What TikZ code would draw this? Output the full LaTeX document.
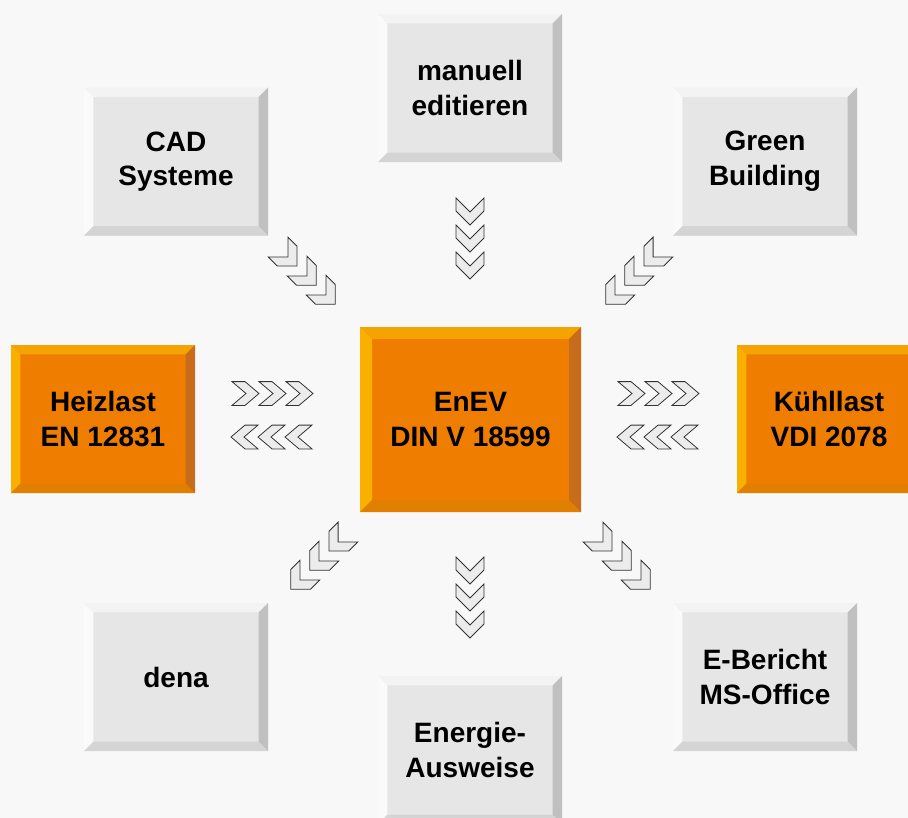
\documentclass[tikz,border=0pt]{standalone}
\usepackage{fontspec}
\setmainfont{Liberation Sans}
\usetikzlibrary{positioning}
\definecolor{bg}{RGB}{248,248,248}
\definecolor{gface}{RGB}{230,230,230}
\definecolor{gtop}{RGB}{243,243,243}
\definecolor{gleft}{RGB}{250,250,250}
\definecolor{gright}{RGB}{192,192,192}
\definecolor{gbottom}{RGB}{212,212,212}
\definecolor{oface}{RGB}{239,125,0}
\definecolor{otop}{RGB}{245,163,0}
\definecolor{oleft}{RGB}{250,176,0}
\definecolor{oright}{RGB}{199,108,26}
\definecolor{obottom}{RGB}{224,127,0}
\definecolor{chevfill}{RGB}{236,236,236}
\tikzset{
bevel/.style n args={5}{path picture={
  \coordinate (bnw) at (path picture bounding box.north west);
  \coordinate (bne) at (path picture bounding box.north east);
  \coordinate (bsw) at (path picture bounding box.south west);
  \coordinate (bse) at (path picture bounding box.south east);
  \fill[#2] (bnw) -- (bne) -- ([xshift=-#1,yshift=-#1]bne) -- ([xshift=#1,yshift=-#1]bnw) -- cycle;
  \fill[#3] (bnw) -- (bsw) -- ([xshift=#1,yshift=#1]bsw) -- ([xshift=#1,yshift=-#1]bnw) -- cycle;
  \fill[#4] (bne) -- (bse) -- ([xshift=-#1,yshift=#1]bse) -- ([xshift=-#1,yshift=-#1]bne) -- cycle;
  \fill[#5] (bsw) -- (bse) -- ([xshift=-#1,yshift=#1]bse) -- ([xshift=#1,yshift=#1]bsw) -- cycle;
}},
box/.style={rectangle,inner sep=0pt,minimum width=138pt,minimum height=111pt,
  align=center,font=\bfseries\fontsize{21}{26}\selectfont},
graybox/.style={box,fill=gface,bevel={7pt}{gtop}{gleft}{gright}{gbottom}},
orangebox/.style={box,fill=oface,bevel={7pt}{otop}{oleft}{oright}{obottom}},
bigbox/.style={orangebox,minimum width=165.75pt,minimum height=138.75pt,
  bevel={9pt}{otop}{oleft}{oright}{obottom}},
chev/.style={fill=chevfill,draw=black!80,line width=0.6pt,line join=miter},
pics/chevrons/.style={code={
  \foreach \k in {1,...,#1}
    \filldraw[chev] ({27*(\k-1)},14) -- ++(13,0) -- ++(14,-14) -- ++(-14,-14)
      -- ++(-13,0) -- ++(14,14) -- cycle;
}},
}
\begin{document}
\begin{tikzpicture}[x=0.75pt,y=-0.75pt]
\useasboundingbox (0,0) rectangle (908,818);
\clip (0,0) rectangle (908,818);
\fill[bg] (0,0) rectangle (908,818);
% outer ring
\node[graybox] (man) at (470,88) {manuell\\editieren};
\node[graybox] (cad) at (176,161.5) {CAD\\Systeme};
\node[graybox] (green) at (765,161.5) {Green\\Building};
\node[orangebox] (heiz) at (103,419) {Heizlast\\EN 12831};
\node[bigbox] (enev) at (470.5,419.5) {EnEV\\DIN V 18599};
\node[orangebox] (kuehl) at (829,419) {Kühllast\\VDI 2078};
\node[graybox] (dena) at (176,677) {dena};
\node[graybox] (ausw) at (470,750) {Energie-\\Ausweise};
\node[graybox] (ber) at (765,677) {E-Bericht\\MS-Office};
% chevrons into EnEV
\path (470,198) pic[rotate=-90] {chevrons=3};
\path (278,247) pic[rotate=-45] {chevrons=3};
\path (663,247) pic[rotate=-135] {chevrons=3};
\path (232,393.5) pic[yscale=0.85] {chevrons=3};
\path (618,393.5) pic[yscale=0.85] {chevrons=3};
% chevrons out of EnEV
\path (312,437) pic[rotate=180,yscale=0.85] {chevrons=3};
\path (698,437) pic[rotate=180,yscale=0.85] {chevrons=3};
\path (348,532) pic[rotate=-135] {chevrons=3};
\path (593,532) pic[rotate=-45] {chevrons=3};
\path (470,557) pic[rotate=-90] {chevrons=3};
\end{tikzpicture}
\end{document}
